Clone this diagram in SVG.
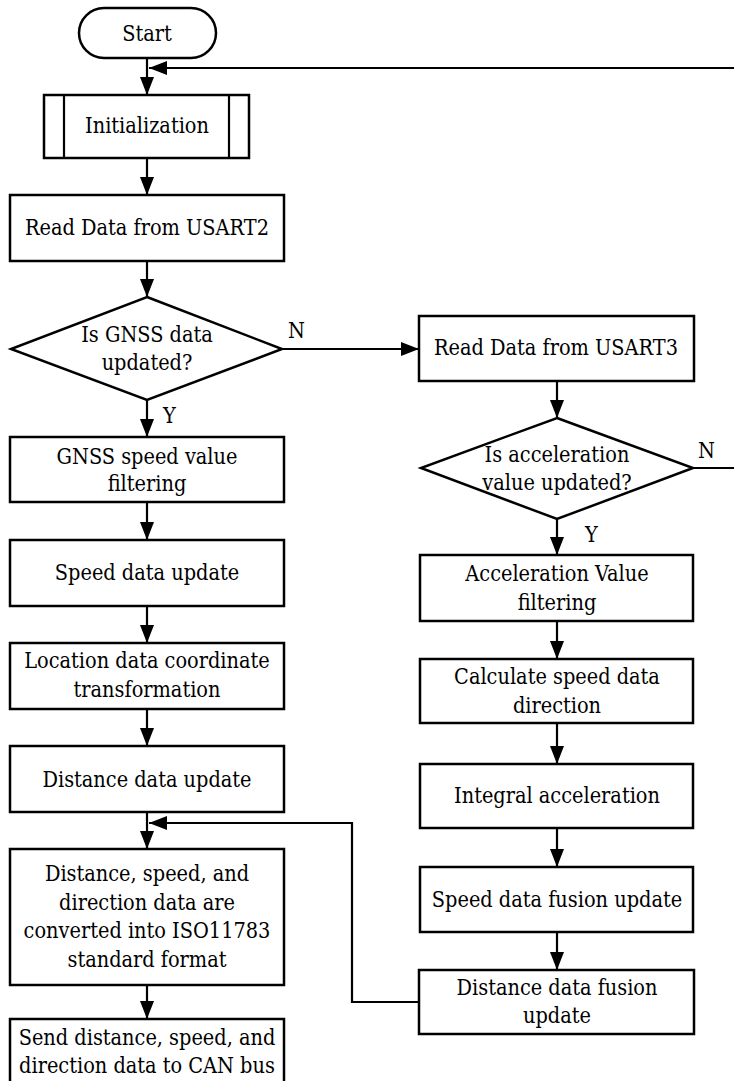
<svg xmlns="http://www.w3.org/2000/svg" width="734" height="1081" viewBox="0 0 734 1081">
<style>
.s{fill:#fff;stroke:#000;stroke-width:2.5}
.c{fill:none;stroke:#000;stroke-width:2.2}
.m{text-anchor:middle}
</style>
<defs>
<marker id="ah" viewBox="0 0 18 14" markerWidth="18" markerHeight="14" refX="18" refY="7" orient="auto" markerUnits="userSpaceOnUse">
<path d="M0,0 L18,7 L0,14 z" fill="#000"/>
</marker>
</defs>
<rect width="734" height="1081" fill="#fff"/>
<g id="connectors" class="c" marker-end="url(#ah)">
<line x1="147" y1="58" x2="147" y2="95"/>
<line x1="147" y1="158" x2="147" y2="195"/>
<line x1="147" y1="261" x2="147" y2="297"/>
<line x1="147" y1="400" x2="147" y2="437"/>
<line x1="147" y1="502" x2="147" y2="540"/>
<line x1="147" y1="606" x2="147" y2="643"/>
<line x1="147" y1="709" x2="147" y2="746"/>
<line x1="147" y1="812" x2="147" y2="849"/>
<line x1="147" y1="985" x2="147" y2="1019"/>
<line x1="557" y1="381" x2="557" y2="418"/>
<line x1="557" y1="519" x2="557" y2="555"/>
<line x1="557" y1="621" x2="557" y2="659"/>
<line x1="557" y1="723" x2="557" y2="764"/>
<line x1="557" y1="828" x2="557" y2="867"/>
<line x1="557" y1="932" x2="557" y2="970"/>
<line x1="282" y1="349" x2="419" y2="349"/>
<line x1="734" y1="68" x2="149" y2="68"/>
<polyline points="419,1002 352,1002 352,823 149,823"/>
<line x1="693" y1="468" x2="734" y2="468" marker-end="none"/>
</g>
<g id="diagram" font-family="DejaVu Serif Condensed, DejaVu Serif, serif" font-stretch="condensed" font-size="21.5" fill="#000">
<g id="labels">
<text x="288" y="338">N</text>
<text x="698" y="458">N</text>
<text x="163" y="423">Y</text>
<text x="585" y="542">Y</text>
</g>
<g id="start"><rect class="s" x="79" y="8" width="137" height="50" rx="25"/><text class="m" x="147" y="41">Start</text></g>
<g id="init"><rect class="s" x="44" y="95" width="205" height="63"/><line class="c" x1="64" y1="95" x2="64" y2="158"/><line class="c" x1="229" y1="95" x2="229" y2="158"/><text class="m" x="147" y="133">Initialization</text></g>
<g id="read2"><rect class="s" x="10" y="195" width="274" height="66"/><text class="m" x="147" y="235">Read Data from USART2</text></g>
<g id="gnssq"><polygon class="s" points="147,297 282,349 147,400 11,349"/><text class="m" x="147" y="342">Is GNSS data</text><text class="m" x="147" y="370">updated?</text></g>
<g id="gnssf"><rect class="s" x="10" y="437" width="274" height="65"/><text class="m" x="147" y="464">GNSS speed value</text><text class="m" x="147" y="491">filtering</text></g>
<g id="speedu"><rect class="s" x="10" y="540" width="274" height="66"/><text class="m" x="147" y="580">Speed data update</text></g>
<g id="loc"><rect class="s" x="10" y="643" width="274" height="66"/><text class="m" x="147" y="668">Location data coordinate</text><text class="m" x="147" y="697">transformation</text></g>
<g id="distu"><rect class="s" x="10" y="746" width="274" height="66"/><text class="m" x="147" y="787">Distance data update</text></g>
<g id="conv"><rect class="s" x="10" y="849" width="274" height="136"/><text class="m" x="147" y="881">Distance, speed, and</text><text class="m" x="147" y="910">direction data are</text><text class="m" x="147" y="938">converted into ISO11783</text><text class="m" x="147" y="967">standard format</text></g>
<g id="send"><rect class="s" x="10" y="1019" width="274" height="90"/><text class="m" x="147" y="1045">Send distance, speed, and</text><text class="m" x="147" y="1073">direction data to  CAN bus</text></g>
<g id="read3"><rect class="s" x="419" y="316" width="275" height="65"/><text class="m" x="556" y="355">Read Data from USART3</text></g>
<g id="accq"><polygon class="s" points="557,418 693,468 557,519 421,468"/><text class="m" x="557" y="462">Is acceleration</text><text class="m" x="557" y="490">value updated?</text></g>
<g id="accf"><rect class="s" x="420" y="555" width="273" height="66"/><text class="m" x="557" y="581">Acceleration Value</text><text class="m" x="557" y="610">filtering</text></g>
<g id="calc"><rect class="s" x="420" y="659" width="273" height="64"/><text class="m" x="557" y="684">Calculate speed data</text><text class="m" x="557" y="713">direction</text></g>
<g id="integ"><rect class="s" x="420" y="764" width="273" height="64"/><text class="m" x="557" y="803">Integral acceleration</text></g>
<g id="sfus"><rect class="s" x="420" y="867" width="273" height="65"/><text class="m" x="557" y="907">Speed data fusion update</text></g>
<g id="dfus"><rect class="s" x="419" y="970" width="275" height="64"/><text class="m" x="557" y="995">Distance data fusion</text><text class="m" x="557" y="1023">update</text></g>
</g>
</svg>
